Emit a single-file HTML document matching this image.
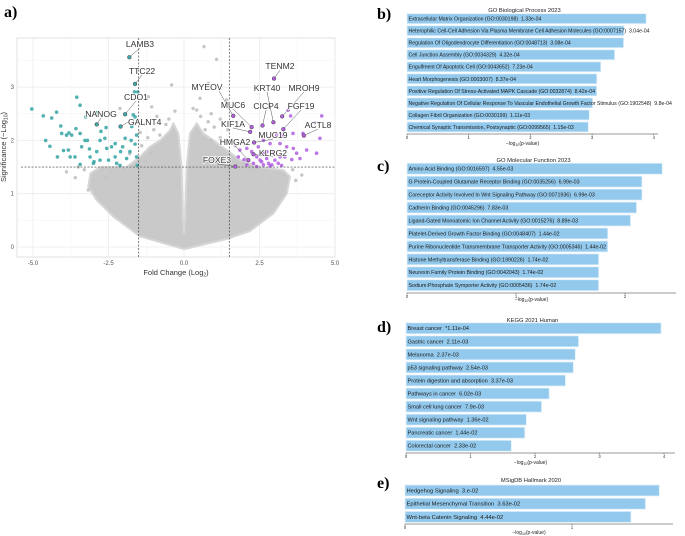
<!DOCTYPE html>
<html><head><meta charset="utf-8">
<style>
html,body{margin:0;padding:0;background:#fff;}
svg{display:block;font-family:"Liberation Sans",sans-serif;}
.plab{font-family:"Liberation Serif",serif;font-weight:bold;font-size:16px;fill:#000;}
</style></head>
<body>
<svg id="fig" width="685" height="536" viewBox="0 0 685 536" xmlns="http://www.w3.org/2000/svg">
<text class="plab" x="4" y="17">a)</text>
<text class="plab" x="377" y="19">b)</text>
<text class="plab" x="377" y="171">c)</text>
<text class="plab" x="377" y="332">d)</text>
<text class="plab" x="377" y="488">e)</text>
<g id="volcano"></g>
<g id="bars"></g>
</svg>
<script>
// ---------- Volcano data ----------
const tealFC = [-5.04,-4.66,-4.38,-4.22,-3.55,-3.44,-4.58,-4.44,-4.08,-4.05,-3.89,-3.81,-3.72,-3.58,-3.44,-3.25,-3.2,-2.89,-4.19,-3.99,-3.83,-3.77,-3.61,-3.39,-3.44,-3.28,-3.13,-3.11,-2.98,-2.89,-2.78,-2.75,-2.62,-2.58,-2.56,-2.5,-2.4,-2.28,-2.28,-2.23,-2.12,-2.1,-2.03,-1.95,-1.9,-1.79,-1.75,-1.73,-1.68,-1.62,-1.64,-1.53,-1.62,-1.57,-1.57,-1.55,-3.0,-2.78];
const tealSig = [2.59,2.46,2.42,2.53,2.81,2.66,2.0,1.89,2.27,2.13,2.1,2.14,2.1,2.22,2.13,2.44,2.0,2.52,1.69,1.81,1.82,1.69,1.69,1.88,1.55,2.0,1.84,1.69,1.6,1.79,2.0,2.17,2.04,2.24,1.85,1.63,1.88,1.94,1.69,1.57,1.53,1.79,1.88,2.04,1.66,1.79,2.0,2.26,2.48,2.44,2.91,2.91,1.93,2.1,1.69,1.53,1.57,1.63];
const purpFC = [3.53,4.56,4.34,3.94,3.61,4.5,4.39,4.06,3.62,3.45,3.23,3.07,2.85,3.18,3.4,3.57,3.84,3.73,2.63,2.46,2.08,1.85,1.8,2.08,2.41,2.52,2.63,2.74,2.8,2.91,3.01,3.12,3.23,2.96,2.3,2.63,2.74,3.18,1.99,2.24,2.57,2.85,2.41,3.34];
const purpSig = [2.46,2.46,2.33,2.13,2.13,2.04,1.76,1.82,1.85,2.57,2.1,2.1,1.94,1.94,1.88,1.64,1.66,1.76,2.0,1.88,1.85,1.82,1.69,1.54,1.69,1.63,1.76,1.66,1.57,1.54,1.63,1.57,1.53,1.76,1.57,1.54,1.79,1.69,1.64,1.79,1.6,1.52,1.51,1.69];
const grayFC = [0.66,1.08,-0.41,0.53,0.81,0.42,-1.18,1.41,-1.07,-2.12,-3.89,-3.17,-3.5,-1.3,1.2,3.6,3.9,-0.9,0.9,-2.6,2.9,-1.8,1.7,-1.4,-1.2,-1.0,-0.8,-0.6,-1.3,-1.1,-0.7,0.7,0.9,1.1,1.3,1.0,0.8,1.2,-3.3,-3.6,-3.0,-2.7,-2.4,-2.0,3.7,3.3,2.2,-1.45,1.45,-0.5,0.55,0.3,-0.3];
const graySig = [3.76,3.52,3.04,2.79,3.07,2.57,2.82,2.76,2.63,2.6,1.41,1.07,1.5,2.3,2.4,1.45,1.35,2.45,2.5,1.3,1.3,1.75,1.9,1.9,2.05,2.2,2.1,2.3,1.6,1.75,1.95,2.2,2.0,1.85,1.7,2.25,2.35,2.05,1.45,1.3,1.25,1.45,1.4,1.45,1.25,1.35,1.45,2.15,2.2,2.4,2.45,2.6,2.55];
const cloudFC = [0,-1.46,-2.34,-2.89,-3.17,-3.1,-2.78,-1.9,-1.46,-1.13,-0.79,-0.46,-0.35,-0.19,-0.08,-0.04,0,0.04,0.09,0.2,0.42,0.64,0.97,1.41,1.85,2.52,3.29,3.51,3.4,2.96,2.19,1.41,0];
const cloudSig = [-0.04,0.2,0.57,0.88,1.13,1.38,1.5,1.5,1.69,1.88,2.0,2.19,2.32,2.13,1.5,0.57,0.26,0.57,1.5,2.13,2.32,2.13,2.0,1.82,1.63,1.5,1.44,1.32,1.0,0.63,0.3,0.15,-0.04];
const geneNames = ["LAMB3","TTC22","CDO1","NANOG","GALNT4","TENM2","MYEOV","MUC6","KIF1A","CICP4","KRT40","MROH9","FGF19","ACTL8","MUC19","HMGA2","KLRG2","FOXE3"];
const geneFC = [-1.81,-1.62,-1.95,-2.89,-2.1,2.98,1.63,2.24,2.19,2.6,2.96,3.25,3.29,3.97,2.32,2.13,2.3,1.7];
const geneSig = [3.56,3.06,2.49,2.3,2.26,3.16,2.46,2.25,2.16,2.28,2.34,2.45,2.21,2.09,1.96,1.63,1.74,1.51];
const xTicks = [-5,-2.5,0,2.5,5];
const xTickLabels = ["-5.0","-2.5","0.0","2.5","5.0"];
const yTicks = [0,1,2,3];
const fcCut = 1.5, sigCut = 1.5;

// label text positions (pixels) - layout only
const labelPos = [[140,47,'middle'],[142,74,'middle'],[136,100,'middle'],[101,117,'middle'],[128,125,'start'],[280,69,'middle'],[207,90,'middle'],[233,108,'middle'],[233,127,'middle'],[266,109,'middle'],[267,91,'middle'],[304,91,'middle'],[301,109,'middle'],[318,128,'middle'],[273,138,'middle'],[235,145,'middle'],[273,156,'middle'],[217,163,'middle']];

const NS='http://www.w3.org/2000/svg';
function mk(tag,attrs,parent){const e=document.createElementNS(NS,tag);for(const k in attrs)e.setAttribute(k,attrs[k]);parent.appendChild(e);return e;}
const X = v => 184 + v*30.2;
const Y = v => 247 - v*53.3;
const V = document.getElementById('volcano');
const pl=17, pr=335, pt=38, pb=257;

let bg = mk('rect',{x:pl,y:pt,width:pr-pl,height:pb-pt,fill:'#fff',stroke:'#d9d9d9','stroke-width':0.8},V);


for(let i=0;i<xTicks.length;i++){
  const x=X(xTicks[i]);
  let g=mk('line',{x1:x,x2:x,y1:pt,y2:pb,stroke:'#ebebeb','stroke-width':0.8},V);
  
  
  if(i<xTicks.length-1){const xm=X((xTicks[i]+xTicks[i+1])/2);
    let m=mk('line',{x1:xm,x2:xm,y1:pt,y2:pb,stroke:'#f3f3f3','stroke-width':0.5},V);
    
    }
  let t=mk('text',{x:x,y:265,'font-size':6,'text-anchor':'middle',fill:'#555'},V);t.textContent=xTickLabels[i];
  
  
}
for(let i=0;i<yTicks.length;i++){
  const y=Y(yTicks[i]);
  let g=mk('line',{x1:pl,x2:pr,y1:y,y2:y,stroke:'#ebebeb','stroke-width':0.8},V);
  
  
  const ym=Y(yTicks[i]+0.5);
  let m=mk('line',{x1:pl,x2:pr,y1:ym,y2:ym,stroke:'#f3f3f3','stroke-width':0.5},V);
  
  
  let t=mk('text',{x:14,y:y+2,'font-size':6,'text-anchor':'end',fill:'#555'},V);t.textContent=String(yTicks[i]);
  
  
}
// cloud
let pts=cloudFC.map((f,i)=>X(f).toFixed(1)+','+Y(cloudSig[i]).toFixed(1)).join(' ');
let cl=mk('polygon',{points:pts,fill:'#c9c9c9',stroke:'#d6d6d6','stroke-width':2,'stroke-linejoin':'round'},V);


for(let i=0;i<grayFC.length;i++){
  let c=mk('circle',{cx:X(grayFC[i]),cy:Y(graySig[i]),r:1.7,fill:'#c6c6c6'},V);
  
  
}
for(let i=0;i<tealFC.length;i++){
  let c=mk('circle',{cx:X(tealFC[i]),cy:Y(tealSig[i]),r:1.8,fill:'#3fa9a9','fill-opacity':0.9},V);
  
  
}
for(let i=0;i<purpFC.length;i++){
  let c=mk('circle',{cx:X(purpFC[i]),cy:Y(purpSig[i]),r:1.8,fill:'#b25fe0','fill-opacity':0.85},V);
  
  
}
[[-fcCut],[fcCut]].forEach(a=>{const x=X(a[0]);
  let l=mk('line',{x1:x,x2:x,y1:pt,y2:pb,stroke:'#444','stroke-width':0.7,'stroke-dasharray':'2,1.5'},V);
  
  });
let hl=mk('line',{x1:pl+4,x2:pr,y1:Y(sigCut),y2:Y(sigCut),stroke:'#444','stroke-width':0.7,'stroke-dasharray':'2,1.5'},V);


for(let i=0;i<geneNames.length;i++){
  const px=X(geneFC[i]), py=Y(geneSig[i]);
  const lp=labelPos[i];
  const up = geneFC[i]>0;
  const lx = lp[2]==='start'? lp[0] : lp[0] + (i===6?12:0);
  mk('line',{x1:lx,y1:lp[1]+(lp[2]==='start'?-3:1),x2:px,y2:py,stroke:'#555','stroke-width':0.5},V);
  let c=mk('circle',{cx:px,cy:py,r:1.9,fill:up?'#b25fe0':'#3fa9a9',stroke:'#444','stroke-width':0.5},V);
  
  
  let t=mk('text',{x:lp[0],y:lp[1],'font-size':8.6,'text-anchor':lp[2],fill:'#333',stroke:'#fff','stroke-width':1.6,'paint-order':'stroke'},V);
  t.textContent=geneNames[i];
  
  
}
let xt=mk('text',{x:176,y:275,'font-size':7.5,'text-anchor':'middle',fill:'#333'},V);
xt.innerHTML='Fold Change (Log<tspan font-size="5" dy="1.5">2</tspan><tspan dy="-1.5">)</tspan>';


let yt=mk('text',{x:0,y:0,'font-size':7.5,'text-anchor':'middle',fill:'#333',transform:'translate(6,147) rotate(-90)'},V);
yt.innerHTML='Significance (−Log<tspan font-size="5" dy="1.5">10</tspan><tspan dy="-1.5">)</tspan>';



// ---------- Bar chart data ----------
const bpTerms = ["Extracellular Matrix Organization (GO:0030198)","Heterophilic Cell-Cell Adhesion Via Plasma Membrane Cell Adhesion Molecules (GO:0007157)","Regulation Of Oligodendrocyte Differentiation (GO:0048713)","Cell Junction Assembly (GO:0034329)","Engulfment Of Apoptotic Cell (GO:0043652)","Heart Morphogenesis (GO:0003007)","Positive Regulation Of Stress-Activated MAPK Cascade (GO:0032874)","Negative Regulation Of Cellular Response To Vascular Endothelial Growth Factor Stimulus (GO:1902548)","Collagen Fibril Organization (GO:0030199)","Chemical Synaptic Transmission, Postsynaptic (GO:0099565)"];
const bpP = ["1.33e-04","3.04e-04","3.08e-04","4.32e-04","7.23e-04","8.37e-04","8.42e-04","9.8e-04","1.11e-03","1.15e-03"];
const bpScore = [3.876,3.517,3.511,3.365,3.141,3.077,3.075,3.009,2.955,2.939];
const mfTerms = ["Amino Acid Binding (GO:0016597)","G Protein-Coupled Glutamate Receptor Binding (GO:0035256)","Coreceptor Activity Involved In Wnt Signaling Pathway (GO:0071936)","Cadherin Binding (GO:0045296)","Ligand-Gated Monoatomic Ion Channel Activity (GO:0015276)","Platelet-Derived Growth Factor Binding (GO:0048407)","Purine Ribonucleotide Transmembrane Transporter Activity (GO:0005346)","Histone Methyltransferase Binding (GO:1990226)","Neurexin Family Protein Binding (GO:0042043)","Sodium:Phosphate Symporter Activity (GO:0005436)"];
const mfP = ["4.55e-03","6.99e-03","6.99e-03","7.83e-03","8.89e-03","1.44e-02","1.44e-02","1.74e-02","1.74e-02","1.74e-02"];
const mfScore = [2.342,2.156,2.156,2.106,2.051,1.842,1.842,1.759,1.759,1.759];
const keggTerms = ["Breast cancer","Gastric cancer","Melanoma","p53 signaling pathway","Protein digestion and absorption","Pathways in cancer","Small cell lung cancer","Wnt signaling pathway","Pancreatic cancer","Colorectal cancer"];
const keggP = ["*1.11e-04","2.11e-03","2.37e-03","2.54e-03","3.37e-03","6.02e-03","7.9e-03","1.36e-02","1.44e-02","2.33e-02"];
const keggScore = [3.955,2.676,2.625,2.595,2.472,2.220,2.102,1.866,1.842,1.633];
const hmTerms = ["Hedgehog Signaling","Epithelial Mesenchymal Transition","Wnt-beta Catenin Signaling"];
const hmP = ["3.e-02","3.63e-02","4.44e-02"];
const hmScore = [1.523,1.440,1.353];
const bpTicks=[0,1,2,3,4], mfTicks=[0,1,2], keggTicks=[0,1,2,3,4], hmTicks=[0,1];

const B=document.getElementById('bars');
function barChart(name,title,terms,pv,score,ticks,L){
  const g=mk('g',{},B);
  
  
  const sx=v=>L.x0+v*L.k;
  let t=mk('text',{x:(L.x0+L.end)/2-8,y:L.ty,'font-size':5.8,'text-anchor':'middle',fill:'#222'},g);t.textContent=title;
  
  
  for(let i=0;i<terms.length;i++){
    const cy=L.y0+i*L.step;
    let r=mk('rect',{x:sx(0),y:cy-L.h/2,width:sx(score[i])-sx(0),height:L.h,fill:'#93c9ec',stroke:'#e3f1fb','stroke-width':0.8},g);
    
    
    let tx=mk('text',{x:sx(0)+1.5,y:cy+1.9,'font-size':L.fs,fill:'#1a1a1a'},g);
    tx.textContent=terms[i]+'\u00a0\u00a0'+pv[i];
    
    
  }
  let ax=mk('line',{x1:sx(0),x2:L.end,y1:L.ay,y2:L.ay,stroke:'#333','stroke-width':0.6},g);
  
  
  ticks.forEach(v=>{
    mk('line',{x1:sx(v),x2:sx(v),y1:L.ay,y2:L.ay+1.5,stroke:'#333','stroke-width':0.5},g);
    let tl=mk('text',{x:sx(v),y:L.ay+5,'font-size':4.2,'text-anchor':'middle',fill:'#333'},g);tl.textContent=String(v);
    
    
  });
  let xl=mk('text',{x:(L.x0+L.end)/2-10,y:L.ly,'font-size':5,'text-anchor':'middle',fill:'#222'},g);
  xl.innerHTML='−log<tspan font-size="3.5" dy="1">10</tspan><tspan dy="-1">(p-value)</tspan>';
  
  
}
barChart('go-biological-process-chart','GO Biological Process 2023',bpTerms,bpP,bpScore,bpTicks,{x0:407,k:61.7,y0:18.7,step:12.03,h:10,ay:134,end:658,ty:12,ly:145,fs:5.2});
barChart('go-molecular-function-chart','GO Molecular Function 2023',mfTerms,mfP,mfScore,mfTicks,{x0:407,k:109,y0:168.7,step:12.95,h:11,ay:293,end:676,ty:162,ly:301,fs:5.3});
barChart('kegg-chart','KEGG 2021 Human',keggTerms,keggP,keggScore,keggTicks,{x0:406,k:64.5,y0:328.3,step:13.05,h:11,ay:453,end:675,ty:322,ly:464,fs:5.6});
barChart('msigdb-hallmark-chart','MSigDB Hallmark 2020',hmTerms,hmP,hmScore,hmTicks,{x0:405,k:167,y0:490.5,step:13.2,h:11,ay:524,end:673,ty:482,ly:534,fs:5.8});
</script>
</body></html>
